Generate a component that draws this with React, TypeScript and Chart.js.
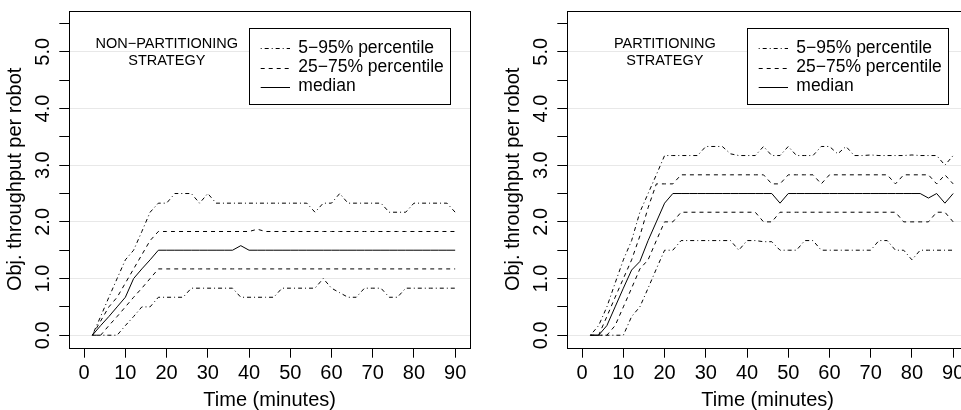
import React, { useEffect, useRef } from 'react';
import { Chart, registerables } from 'chart.js';

Chart.register(...registerables);

// ---------- data ----------
const minutes = [2, 4, 6, 8, 10, 12, 14, 16, 18, 20, 22, 24, 26, 28, 30, 32, 34, 36, 38, 40, 42, 44, 46, 48, 50, 52, 54, 56, 58, 60, 62, 64, 66, 68, 70, 72, 74, 76, 78, 80, 82, 84, 86, 88, 90];
const xTickValues = [0, 10, 20, 30, 40, 50, 60, 70, 80, 90];
const yTickValues = [0, 0.5, 1, 1.5, 2, 2.5, 3, 3.5, 4, 4.5, 5, 5.5];
const legendLabels = ['5\u221295% percentile', '25\u221275% percentile', 'median'];
const nonPartitioningNote = ['NON\u2212PARTITIONING', 'STRATEGY'];
const partitioningNote = ['PARTITIONING', 'STRATEGY'];
const xAxisTitle = 'Time (minutes)';
const yAxisTitle = 'Obj. throughput per robot';

// Non-partitioning strategy
const nonP95 = [0, 0.33, 0.67, 1.0, 1.33, 1.5, 1.83, 2.17, 2.33, 2.33, 2.5, 2.5, 2.5, 2.33, 2.5, 2.33, 2.33, 2.33, 2.33, 2.33, 2.33, 2.33, 2.33, 2.33, 2.33, 2.33, 2.33, 2.17, 2.33, 2.33, 2.5, 2.33, 2.33, 2.33, 2.33, 2.33, 2.17, 2.17, 2.17, 2.33, 2.33, 2.33, 2.33, 2.33, 2.17];
const nonP75 = [0, 0.25, 0.5, 0.67, 0.92, 1.17, 1.42, 1.67, 1.83, 1.83, 1.83, 1.83, 1.83, 1.83, 1.83, 1.83, 1.83, 1.83, 1.83, 1.83, 1.87, 1.83, 1.83, 1.83, 1.83, 1.83, 1.83, 1.83, 1.83, 1.83, 1.83, 1.83, 1.83, 1.83, 1.83, 1.83, 1.83, 1.83, 1.83, 1.83, 1.83, 1.83, 1.83, 1.83, 1.83];
const nonMedian = [0, 0.17, 0.33, 0.5, 0.67, 1.0, 1.17, 1.33, 1.5, 1.5, 1.5, 1.5, 1.5, 1.5, 1.5, 1.5, 1.5, 1.5, 1.58, 1.5, 1.5, 1.5, 1.5, 1.5, 1.5, 1.5, 1.5, 1.5, 1.5, 1.5, 1.5, 1.5, 1.5, 1.5, 1.5, 1.5, 1.5, 1.5, 1.5, 1.5, 1.5, 1.5, 1.5, 1.5, 1.5];
const nonP25 = [0, 0, 0.17, 0.33, 0.5, 0.67, 0.83, 1.0, 1.17, 1.17, 1.17, 1.17, 1.17, 1.17, 1.17, 1.17, 1.17, 1.17, 1.17, 1.17, 1.17, 1.17, 1.17, 1.17, 1.17, 1.17, 1.17, 1.17, 1.17, 1.17, 1.17, 1.17, 1.17, 1.17, 1.17, 1.17, 1.17, 1.17, 1.17, 1.17, 1.17, 1.17, 1.17, 1.17, 1.17];
const nonP5 = [0, 0, 0, 0, 0.17, 0.33, 0.5, 0.5, 0.67, 0.67, 0.67, 0.67, 0.83, 0.83, 0.83, 0.83, 0.83, 0.83, 0.67, 0.67, 0.67, 0.67, 0.67, 0.83, 0.83, 0.83, 0.83, 0.83, 1.0, 0.83, 0.75, 0.67, 0.67, 0.83, 0.83, 0.83, 0.67, 0.67, 0.83, 0.83, 0.83, 0.83, 0.83, 0.83, 0.83];

// Partitioning strategy
const partP95 = [0, 0.17, 0.5, 0.92, 1.33, 1.67, 2.17, 2.5, 2.83, 3.17, 3.17, 3.17, 3.17, 3.17, 3.33, 3.33, 3.33, 3.2, 3.17, 3.17, 3.17, 3.33, 3.17, 3.17, 3.33, 3.17, 3.17, 3.17, 3.33, 3.33, 3.2, 3.33, 3.17, 3.17, 3.18, 3.17, 3.17, 3.17, 3.17, 3.18, 3.17, 3.17, 3.17, 3.0, 3.17];
const partP75 = [0, 0, 0.33, 0.67, 1.0, 1.33, 1.75, 2.25, 2.67, 2.67, 2.67, 2.83, 2.83, 2.83, 2.83, 2.83, 2.83, 2.83, 2.83, 2.83, 2.83, 2.83, 2.67, 2.67, 2.83, 2.83, 2.83, 2.83, 2.67, 2.83, 2.83, 2.83, 2.83, 2.83, 2.83, 2.83, 2.83, 2.67, 2.83, 2.83, 2.83, 2.83, 2.67, 2.83, 2.67];
const partMedian = [0, 0, 0.17, 0.5, 0.83, 1.15, 1.3, 1.67, 2.0, 2.33, 2.5, 2.5, 2.5, 2.5, 2.5, 2.5, 2.5, 2.5, 2.5, 2.5, 2.5, 2.5, 2.5, 2.33, 2.5, 2.5, 2.5, 2.5, 2.5, 2.5, 2.5, 2.5, 2.5, 2.5, 2.5, 2.5, 2.5, 2.5, 2.5, 2.5, 2.5, 2.42, 2.5, 2.33, 2.5];
const partP25 = [0, 0, 0, 0.17, 0.5, 0.83, 1.17, 1.33, 1.67, 2.0, 2.0, 2.17, 2.17, 2.17, 2.17, 2.17, 2.17, 2.17, 2.17, 2.17, 2.17, 2.0, 2.0, 2.17, 2.17, 2.17, 2.17, 2.17, 2.17, 2.17, 2.17, 2.17, 2.17, 2.17, 2.17, 2.17, 2.17, 2.17, 2.0, 2.0, 2.0, 2.0, 2.17, 2.17, 2.0];
const partP5 = [0, 0, 0, 0, 0, 0.33, 0.5, 0.83, 1.17, 1.5, 1.5, 1.67, 1.67, 1.67, 1.67, 1.67, 1.67, 1.67, 1.5, 1.67, 1.67, 1.65, 1.65, 1.5, 1.5, 1.5, 1.67, 1.67, 1.5, 1.5, 1.5, 1.5, 1.5, 1.5, 1.5, 1.67, 1.67, 1.5, 1.5, 1.33, 1.5, 1.5, 1.5, 1.5, 1.5];

// ---------- styling ----------
const FONT = "'Liberation Sans', Arial, Helvetica, sans-serif";
const DASH_DOT = [1, 3, 4, 3];
const DASHED = [4, 4];
const SOLID: number[] = [];
const GRID_COLOR = '#e8e8e8';

const W = 480;
const H = 410;

function crisp(v: number) {
  return Math.round(v) + 0.5;
}

function makeChart(canvas: HTMLCanvasElement, series: number[][], note: string[]) {
  const dashes = [DASH_DOT, DASHED, SOLID, DASHED, DASH_DOT];
  const datasets = series.map((s, k) => ({
    data: s.map((v, i) => ({ x: minutes[i], y: v })),
    borderColor: '#000',
    borderWidth: 1,
    borderDash: dashes[k],
    pointRadius: 0,
    tension: 0,
    fill: false,
  }));

  const overlay = {
    id: 'frameLegendNote',
    afterDraw(chart: any) {
      const ctx = chart.ctx as CanvasRenderingContext2D;
      const ca = chart.chartArea;
      ctx.save();
      // frame
      ctx.strokeStyle = '#000';
      ctx.lineWidth = 1;
      ctx.setLineDash([]);
      const l = crisp(ca.left), t = crisp(ca.top), r = crisp(ca.right), b = crisp(ca.bottom);
      ctx.strokeRect(l, t, r - l, b - t);

      // legend box
      const bx = crisp(ca.left + 180);
      const by = crisp(ca.top + 17.3);
      const bw = 201;
      const bh = 76;
      ctx.fillStyle = '#fff';
      ctx.fillRect(bx, by, bw, bh);
      ctx.strokeRect(bx, by, bw, bh);
      const rows = [37.3, 56.5, 75.5];
      const legendDash = [DASH_DOT, DASHED, SOLID];
      ctx.font = `17.5px ${FONT}`;
      ctx.textBaseline = 'middle';
      ctx.textAlign = 'left';
      ctx.fillStyle = '#000';
      rows.forEach((ry, i) => {
        const y = crisp(ca.top + ry);
        ctx.setLineDash(legendDash[i]);
        ctx.beginPath();
        ctx.moveTo(ca.left + 191.4, y);
        ctx.lineTo(ca.left + 220.7, y);
        ctx.stroke();
        ctx.fillText(legendLabels[i], ca.left + 229, ca.top + ry);
      });
      ctx.setLineDash([]);

      // strategy note
      ctx.font = `14.5px ${FONT}`;
      ctx.textAlign = 'center';
      ctx.fillText(note[0], ca.left + 97.5, ca.top + 33);
      ctx.fillText(note[1], ca.left + 97.5, ca.top + 50.2);
      ctx.restore();
    },
  };

  return new Chart(canvas, {
    type: 'line',
    data: { datasets },
    plugins: [overlay],
    options: {
      animation: false,
      responsive: false,
      maintainAspectRatio: false,
      devicePixelRatio: 1,
      layout: { padding: { top: 11, right: 10, left: 0, bottom: 0 } },
      plugins: {
        legend: { display: false },
        tooltip: { enabled: false },
      },
      scales: {
        x: {
          type: 'linear',
          min: -3.6,
          max: 93.6,
          afterBuildTicks: (scale: any) => {
            scale.ticks = xTickValues.map((v) => ({ value: v }));
          },
          afterFit: (scale: any) => {
            scale.height = 62.3;
            scale.paddingLeft = 0;
            scale.paddingRight = 0;
          },
          border: { display: false },
          grid: {
            display: true,
            drawOnChartArea: false,
            drawTicks: true,
            tickLength: 10,
            tickColor: '#000',
            tickWidth: 1,
          },
          ticks: {
            autoSkip: false,
            maxRotation: 0,
            minRotation: 0,
            padding: 4,
            color: '#000',
            font: { family: FONT, size: 20 },
            callback: (v: any) => String(v),
          },
          title: {
            display: true,
            text: xAxisTitle,
            color: '#000',
            font: { family: FONT, size: 20, lineHeight: 1.0 },
            padding: { top: 0, bottom: 0 },
          },
        },
        y: {
          type: 'linear',
          min: -0.22,
          max: 5.72,
          afterBuildTicks: (scale: any) => {
            scale.ticks = yTickValues.map((v) => ({ value: v }));
          },
          afterFit: (scale: any) => {
            scale.width = 69.3;
            scale.paddingTop = 0;
            scale.paddingBottom = 0;
          },
          border: { display: false },
          grid: {
            display: true,
            drawOnChartArea: true,
            drawTicks: true,
            tickLength: 10,
            tickColor: '#000',
            tickWidth: 1,
            lineWidth: 1,
            color: (ctx: any) =>
              ctx.tick && Number.isInteger(ctx.tick.value) ? GRID_COLOR : 'rgba(0,0,0,0)',
          },
          ticks: {
            autoSkip: false,
            minRotation: 90,
            maxRotation: 90,
            crossAlign: 'center',
            padding: 1.7,
            color: '#000',
            font: { family: FONT, size: 20 },
            callback: (v: any) => (Number.isInteger(v) ? Number(v).toFixed(1) : ''),
          },
          title: {
            display: true,
            text: yAxisTitle,
            color: '#000',
            font: { family: FONT, size: 20, lineHeight: 1.0 },
            padding: { top: 5.5, bottom: 0 },
          },
        },
      },
    } as any,
  });
}

export default function App() {
  const leftRef = useRef<HTMLCanvasElement | null>(null);
  const rightRef = useRef<HTMLCanvasElement | null>(null);

  useEffect(() => {
    const charts: Chart[] = [];
    if (leftRef.current) {
      charts.push(makeChart(leftRef.current, [nonP95, nonP75, nonMedian, nonP25, nonP5], nonPartitioningNote));
    }
    if (rightRef.current) {
      charts.push(makeChart(rightRef.current, [partP95, partP75, partMedian, partP25, partP5], partitioningNote));
    }
    return () => charts.forEach((c) => c.destroy());
  }, []);

  return (
    <div
      style={{
        position: 'fixed',
        left: 0,
        top: 0,
        width: 961,
        height: 410,
        overflow: 'hidden',
        background: '#fff',
      }}
    >
      <canvas
        ref={leftRef}
        width={W}
        height={H}
        style={{ position: 'absolute', left: 0, top: 0, width: W, height: H }}
      />
      <canvas
        ref={rightRef}
        width={W}
        height={H}
        style={{ position: 'absolute', left: 498, top: 0, width: W, height: H }}
      />
    </div>
  );
}
